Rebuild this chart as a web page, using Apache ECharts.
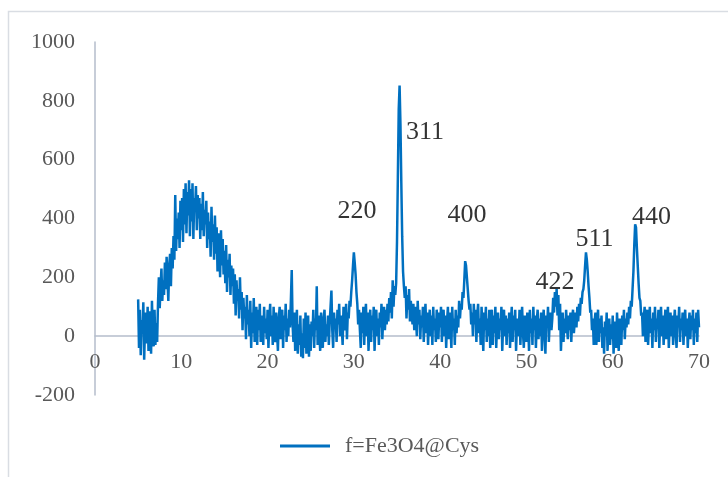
<!DOCTYPE html>
<html><head><meta charset="utf-8">
<script src="https://cdn.jsdelivr.net/npm/echarts@6/dist/echarts.min.js"></script>
<style>html,body{margin:0;padding:0;background:#fff}#c{width:728px;height:477px}</style>
</head><body><div id="c"></div>
<script>
// 2θ sampled from 5.0 to 70.0 every 0.1 degree; one row per degree
const startAngle = 5.0;
const stepAngle = 0.1;
const intensityRows = [
/* 5 */ [125,-40,90,-65,55,10,115,-80,35,80],
/* 6 */ [-25,100,-50,85,15,-60,120,5,-35,90],
/* 7 */ [-30,45,-20,110,200,95,170,230,120,190],
/* 8 */ [140,250,160,270,190,120,240,280,170,300],
/* 9 */ [230,340,260,480,290,400,330,420,300,460],
/*10 */ [360,470,320,500,380,520,350,490,410,530],
/*11 */ [340,500,390,520,330,470,430,510,360,480],
/*12 */ [400,470,330,450,360,490,340,430,380,460],
/*13 */ [300,420,330,390,270,440,320,380,260,410],
/*14 */ [280,370,220,350,300,200,360,240,330,210],
/*15 */ [290,180,310,150,260,200,280,140,240,170],
/*16 */ [230,110,210,70,190,120,160,60,200,90],
/*17 */ [150,20,130,60,100,-10,140,40,90,0],
/*18 */ [120,-40,80,10,130,-20,60,100,-30,90],
/*19 */ [20,110,-20,70,40,-30,100,10,60,-10],
/*20 */ [90,-40,50,110,0,70,-30,100,20,-20],
/*21 */ [80,10,-50,60,100,-10,40,90,-40,70],
/*22 */ [20,110,-20,60,0,90,30,120,225,40],
/*23 */ [-20,80,-50,30,90,-60,40,-30,70,-70],
/*24 */ [10,-75,60,-40,80,-60,20,70,-70,40],
/*25 */ [-50,50,0,90,-40,60,20,170,-30,70],
/*26 */ [10,-50,80,20,-40,60,90,-20,40,0],
/*27 */ [70,-30,50,100,155,20,-40,80,30,60],
/*28 */ [-20,90,40,110,0,70,30,-30,100,50],
/*29 */ [20,110,-10,80,60,120,100,150,190,240],
/*30 */ [285,250,210,150,110,40,90,20,-40,80],
/*31 */ [10,100,-30,60,110,0,80,-50,40,90],
/*32 */ [-20,70,20,100,-50,50,90,0,60,-30],
/*33 */ [80,30,110,-10,60,100,20,90,40,110],
/*34 */ [50,130,80,150,60,190,100,170,140,180],
/*35 */ [320,540,770,852,720,520,340,220,170,130],
/*36 */ [170,60,140,90,160,50,120,80,40,110],
/*37 */ [20,100,60,0,120,40,90,-10,70,30],
/*38 */ [100,-20,60,110,10,80,-30,50,90,0],
/*39 */ [70,-30,100,20,60,-20,90,40,-10,80],
/*40 */ [30,100,-20,60,90,0,70,-40,50,100],
/*41 */ [-10,80,40,-40,100,20,60,-30,90,10],
/*42 */ [70,30,120,60,110,90,150,130,190,255],
/*43 */ [240,200,160,120,90,110,40,80,0,110],
/*44 */ [40,90,-20,70,110,10,60,-30,100,30],
/*45 */ [-50,80,20,100,-20,60,0,90,-40,50],
/*46 */ [90,-30,70,10,100,-40,50,80,-10,60],
/*47 */ [20,100,-50,40,90,0,70,-30,60,10],
/*48 */ [80,-40,50,100,-20,70,20,90,-50,40],
/*49 */ [60,0,90,-30,50,100,10,-40,70,30],
/*50 */ [-20,80,40,-50,90,10,60,-30,100,20],
/*51 */ [70,-40,50,90,-10,60,0,80,-50,40],
/*52 */ [90,10,-60,70,30,100,-20,50,80,20],
/*53 */ [60,130,80,150,100,160,70,140,20,110],
/*54 */ [-50,40,80,-20,60,10,90,30,-10,70],
/*55 */ [20,80,-20,60,90,10,50,80,30,100],
/*56 */ [50,110,70,130,110,150,160,190,240,285],
/*57 */ [260,220,170,130,80,90,20,60,-30,50],
/*58 */ [80,-30,40,90,-20,60,10,70,-40,30],
/*59 */ [-60,50,0,80,-50,30,60,-30,40,-10],
/*60 */ [70,-60,20,50,-40,80,0,-50,60,10],
/*61 */ [-30,70,20,90,-10,60,30,80,40,100],
/*62 */ [60,120,100,160,220,310,380,370,300,240],
/*63 */ [180,130,120,70,80,0,60,100,-20,50],
/*64 */ [90,-30,40,100,10,60,-40,80,20,100],
/*65 */ [-20,60,30,90,-40,50,100,0,70,-30],
/*66 */ [40,90,-10,60,100,-40,30,80,0,70],
/*67 */ [-30,50,90,10,-40,70,30,100,-20,60],
/*68 */ [20,80,-30,50,90,0,60,-40,40,80],
/*69 */ [-10,70,20,90,-30,60,10,80,-20,90],
/*70 */ [30]
];
const seriesName = 'f=Fe3O4@Cys';
const peakLabels = ['220','311','400','422','511','440'];
const peakLabelX = [30.36,38.24,43.1,53.3,57.9,64.5];
const peakLabelY = [424,693,411,183,329,404];
const xTicks = {min:0,max:70,interval:10};
const yTicks = {min:-200,max:1000,interval:200};

const intensity = [].concat(...intensityRows);
const points = intensity.map((v,i)=>[Math.round((startAngle+i*stepAngle)*10)/10, v]);
const labelPoints = peakLabels.map((t,i)=>[peakLabelX[i], peakLabelY[i], t]);

const axisColor = '#b5bdcb';
const textColor = '#595959';
const serif = '"Liberation Serif","Times New Roman",serif';

const chart = echarts.init(document.getElementById('c'));
chart.setOption({
  backgroundColor:'#fff',
  animation:false,
  graphic:[{type:'rect',shape:{x:8.5,y:11.5,width:760,height:520},style:{fill:'none',stroke:'#d9dde3',lineWidth:1.5},silent:true}],
  grid:{left:95,right:29,top:42,bottom:82},
  legend:{data:[{name:seriesName,icon:'rect'}],left:275,top:430,itemWidth:50,itemHeight:3,
    itemStyle:{color:'#0070C0'},
    textStyle:{fontFamily:serif,fontSize:22,color:textColor,padding:[0,0,0,10]}},
  xAxis:{type:'value',min:xTicks.min,max:xTicks.max,interval:xTicks.interval,
    position:'bottom',offset:-59,
    axisLine:{onZero:false,lineStyle:{color:axisColor,width:1.5}},axisTick:{show:false},splitLine:{show:false},
    axisLabel:{fontFamily:serif,fontSize:22,color:textColor,margin:15,formatter:v=>String(v)}},
  yAxis:{type:'value',min:yTicks.min,max:yTicks.max,interval:yTicks.interval,
    axisLine:{show:true,lineStyle:{color:axisColor,width:1.5}},axisTick:{show:false},splitLine:{show:false},
    axisLabel:{fontFamily:serif,fontSize:22,color:textColor,margin:20,formatter:v=>String(v)}},
  series:[
    {name:seriesName,type:'line',data:points,showSymbol:false,symbol:'none',
      lineStyle:{color:'#0070C0',width:2.5},itemStyle:{color:'#0070C0'}},
    {name:'labels',type:'scatter',data:labelPoints,symbolSize:0,silent:true,
      label:{show:true,position:'inside',formatter:p=>p.data[2],fontFamily:serif,fontSize:26,color:'#000'}}
  ]
});
</script></body></html>
